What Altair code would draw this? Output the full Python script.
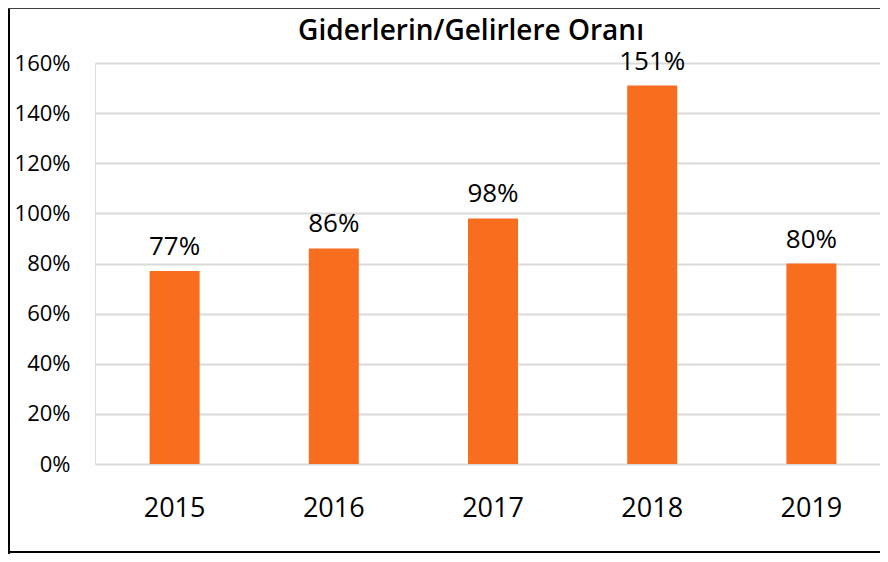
import altair as alt
import pandas as pd

years = ["2015", "2016", "2017", "2018", "2019"]
ratios = [77, 86, 98, 151, 80]
labels = ["77%", "86%", "98%", "151%", "80%"]
title_text = ["Giderlerin/Gelirlere Oranı"]

df = pd.DataFrame({"year": years, "ratio": ratios, "label": labels})
tdf = pd.DataFrame({"t": title_text})

FONT = "Open Sans"
W, H = 785, 401

x = alt.X("year:N", sort=years, title=None,
          scale=alt.Scale(range=[0, 796], paddingInner=0, paddingOuter=0),
          axis=alt.Axis(labelAngle=0, labelFontSize=27, labelFont=FONT, labelColor="#000000",
                        ticks=False, domain=False, labelPadding=31, grid=False))
y = alt.Y("ratio:Q", title=None,
          scale=alt.Scale(domain=[0, 160], nice=False),
          axis=alt.Axis(values=[0, 20, 40, 60, 80, 100, 120, 140, 160],
                        labelExpr="datum.value + '%'", labelFontSize=22, labelFont=FONT,
                        labelColor="#000000", ticks=False, domain=False, labelPadding=25,
                        gridColor="#D9D9D9", gridWidth=2))

bars = alt.Chart(df).mark_bar(size=50, color="#F96D1F").encode(x=x, y=y)
text = alt.Chart(df).mark_text(dy=-16, baseline="alphabetic", fontSize=26, font=FONT,
                               color="#000000").encode(x=x, y=y, text="label:N")

title = alt.Chart(tdf).mark_text(baseline="alphabetic", align="center", fontSize=28,
                                 font=FONT, fontWeight=600, color="#000000").encode(
    x=alt.value(376), y=alt.value(-23), text="t:N")

border_data = alt.Data(values=[{"a": 1}])
left = alt.Chart(border_data).mark_rule(color="#000000", strokeWidth=2).encode(
    x=alt.value(-86), y=alt.value(-55), y2=alt.value(491))
top = alt.Chart(border_data).mark_rule(color="#404040", strokeWidth=2).encode(
    x=alt.value(-87), x2=alt.value(W), y=alt.value(-55))
bottom = alt.Chart(border_data).mark_rule(color="#000000", strokeWidth=2).encode(
    x=alt.value(-87), x2=alt.value(W), y=alt.value(489))

chart = alt.layer(bars, text, title, left, top, bottom).properties(
    width=W, height=H,
    autosize=alt.AutoSizeParams(type="none"),
    padding={"left": 87, "top": 55, "right": 0, "bottom": 90},
).configure_view(stroke=None).configure(background="#FFFFFF")

chart.save("out.html", embed_options={"renderer": "svg", "actions": False})
